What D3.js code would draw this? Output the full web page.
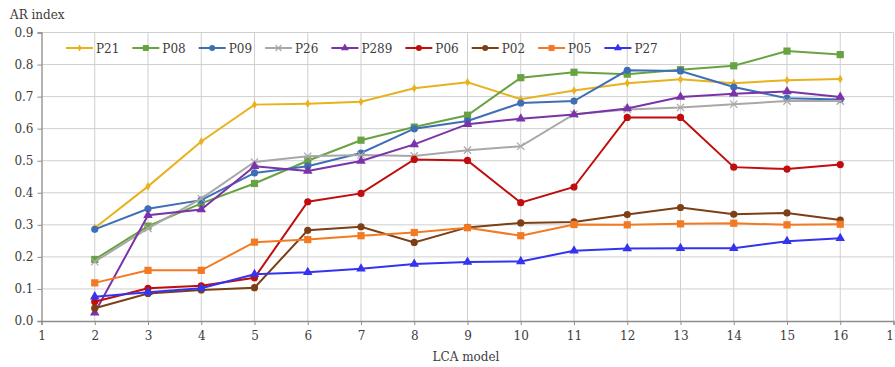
<!DOCTYPE html>
<html>
<head>
<meta charset="utf-8">
<script src="https://cdn.jsdelivr.net/npm/d3@7"></script>
<style>
  body { margin: 0; background: #fff; }
  text { font-family: "DejaVu Serif", serif; fill: #3c3c3c; }
</style>
</head>
<body>
<div id="chart"></div>
<script>
// LCA model numbers (x values)
const models = [2, 3, 4, 5, 6, 7, 8, 9, 10, 11, 12, 13, 14, 15, 16];

const seriesNames = ['P21', 'P08', 'P09', 'P26', 'P289', 'P06', 'P02', 'P05', 'P27'];

const p21  = [0.290, 0.420, 0.560, 0.675, 0.678, 0.684, 0.726, 0.745, 0.692, 0.719, 0.742, 0.754, 0.742, 0.751, 0.755];
const p08  = [0.192, 0.296, 0.367, 0.429, 0.500, 0.564, 0.605, 0.642, 0.759, 0.776, 0.770, 0.784, 0.796, 0.842, 0.831];
const p09  = [0.286, 0.350, 0.377, 0.462, 0.483, 0.524, 0.600, 0.624, 0.680, 0.686, 0.782, 0.780, 0.730, 0.695, 0.691];
const p26  = [0.185, 0.289, 0.382, 0.496, 0.514, 0.518, 0.515, 0.533, 0.545, 0.645, 0.660, 0.666, 0.676, 0.686, 0.686];
const p289 = [0.026, 0.330, 0.348, 0.483, 0.468, 0.499, 0.551, 0.614, 0.631, 0.644, 0.663, 0.699, 0.709, 0.716, 0.699];
const p06  = [0.060, 0.102, 0.110, 0.135, 0.372, 0.398, 0.504, 0.501, 0.369, 0.418, 0.635, 0.635, 0.480, 0.474, 0.488];
const p02  = [0.040, 0.086, 0.097, 0.104, 0.283, 0.294, 0.245, 0.292, 0.306, 0.309, 0.332, 0.354, 0.333, 0.337, 0.315];
const p05  = [0.119, 0.158, 0.158, 0.246, 0.254, 0.266, 0.276, 0.291, 0.266, 0.301, 0.300, 0.303, 0.305, 0.300, 0.302];
const p27  = [0.076, 0.090, 0.102, 0.146, 0.152, 0.163, 0.178, 0.184, 0.186, 0.219, 0.226, 0.227, 0.227, 0.249, 0.258];

const xTicks = d3.range(1, 18);
const yTicks = [0, 0.1, 0.2, 0.3, 0.4, 0.5, 0.6, 0.7, 0.8, 0.9];

const colors  = ['#e8b21e', '#69a341', '#3e6fb6', '#a8a8a8', '#7a33a8', '#c00d0d', '#7c3f16', '#f27a22', '#3434f0'];
const markers = ['diamond', 'square', 'circle', 'asterisk', 'triangle', 'circle', 'circle', 'square', 'triangle'];

const series = seriesNames.map((name, i) => ({
  name: name,
  values: [p21, p08, p09, p26, p289, p06, p02, p05, p27][i],
  color: colors[i],
  marker: markers[i]
}));

const width = 895, height = 367;
const svg = d3.select('#chart').append('svg')
  .attr('width', width)
  .attr('height', height);

const x = d3.scaleLinear().domain([1, 17]).range([41.5, 893.5]);
const y = d3.scaleLinear().domain([0, 0.9]).range([321, 32.5]);

// grid
svg.append('g')
  .selectAll('line')
  .data(xTicks.slice(1))
  .enter().append('line')
  .attr('x1', d => x(d)).attr('x2', d => x(d))
  .attr('y1', y(0)).attr('y2', y(0.9))
  .attr('stroke', '#cfcfcf').attr('stroke-width', 1);

svg.append('g')
  .selectAll('line')
  .data(yTicks.slice(1))
  .enter().append('line')
  .attr('x1', x(1)).attr('x2', x(17))
  .attr('y1', d => y(d)).attr('y2', d => y(d))
  .attr('stroke', '#cfcfcf').attr('stroke-width', 1);

// axes
const xAxis = svg.append('g')
  .attr('transform', 'translate(0,' + y(0) + ')')
  .call(d3.axisBottom(x).tickValues(xTicks).tickFormat(d3.format('d')).tickSize(4).tickPadding(6));

const yAxis = svg.append('g')
  .attr('transform', 'translate(' + x(1) + ',0)')
  .call(d3.axisLeft(y).tickValues(yTicks).tickFormat(d3.format('.1f')).tickSize(4).tickPadding(4));

[xAxis, yAxis].forEach(a => {
  a.select('.domain').attr('stroke', '#8c8c8c').attr('stroke-width', 1.3);
  a.selectAll('.tick line').attr('stroke', '#8c8c8c');
  a.selectAll('.tick text')
    .style('font-family', '"DejaVu Serif", serif')
    .style('font-size', '12px')
    .attr('fill', '#3c3c3c');
});

svg.append('text')
  .attr('x', 10).attr('y', 19)
  .style('font-size', '12px')
  .text('AR index');

svg.append('text')
  .attr('x', 466).attr('y', 361)
  .attr('text-anchor', 'middle')
  .style('font-size', '12px')
  .text('LCA model');

// markers
function drawMarker(g, type, color, size) {
  if (type === 'circle') {
    g.append('circle').attr('r', size * 0.6).attr('fill', color);
  } else if (type === 'square') {
    g.append('rect')
      .attr('x', -size * 0.6).attr('y', -size * 0.6)
      .attr('width', size * 1.2).attr('height', size * 1.2)
      .attr('fill', color);
  } else if (type === 'triangle') {
    g.append('path')
      .attr('d', d3.symbol().type(d3.symbolTriangle).size(size * size * 1.1)())
      .attr('fill', color);
  } else if (type === 'diamond') {
    g.append('path')
      .attr('d', d3.symbol().type(d3.symbolDiamond).size(size * size * 0.6)())
      .attr('fill', color);
  } else if (type === 'asterisk') {
    g.append('path')
      .attr('d', d3.symbol().type(d3.symbolTimes).size(size * size * 1.0)())
      .attr('fill', 'none').attr('stroke', color).attr('stroke-width', 1.2);
  }
}

const line = d3.line()
  .x(d => x(d[0]))
  .y(d => y(d[1]));

series.forEach(s => {
  const pts = models.map((m, i) => [m, s.values[i]]);
  const g = svg.append('g');
  g.append('path')
    .datum(pts)
    .attr('d', line)
    .attr('fill', 'none')
    .attr('stroke', s.color)
    .attr('stroke-width', 2);
  g.selectAll('g.pt')
    .data(pts)
    .enter().append('g')
    .attr('class', 'pt')
    .attr('transform', d => 'translate(' + x(d[0]) + ',' + y(d[1]) + ')')
    .each(function () { drawMarker(d3.select(this), s.marker, s.color, 6); });
});

// legend
let lx = 66;
const ly = 48;
series.forEach(s => {
  const lg = svg.append('g').attr('transform', 'translate(' + lx + ',' + ly + ')');
  lg.append('line')
    .attr('x1', 0).attr('x2', 27)
    .attr('stroke', s.color).attr('stroke-width', 2);
  const m = lg.append('g').attr('transform', 'translate(13.5,0)');
  drawMarker(m, s.marker, s.color, 5);
  const t = lg.append('text')
    .attr('x', 30).attr('y', 4.5)
    .style('font-size', '12px')
    .text(s.name);
  lx += 30 + t.node().getComputedTextLength() + 13;
});
</script>
</body>
</html>
